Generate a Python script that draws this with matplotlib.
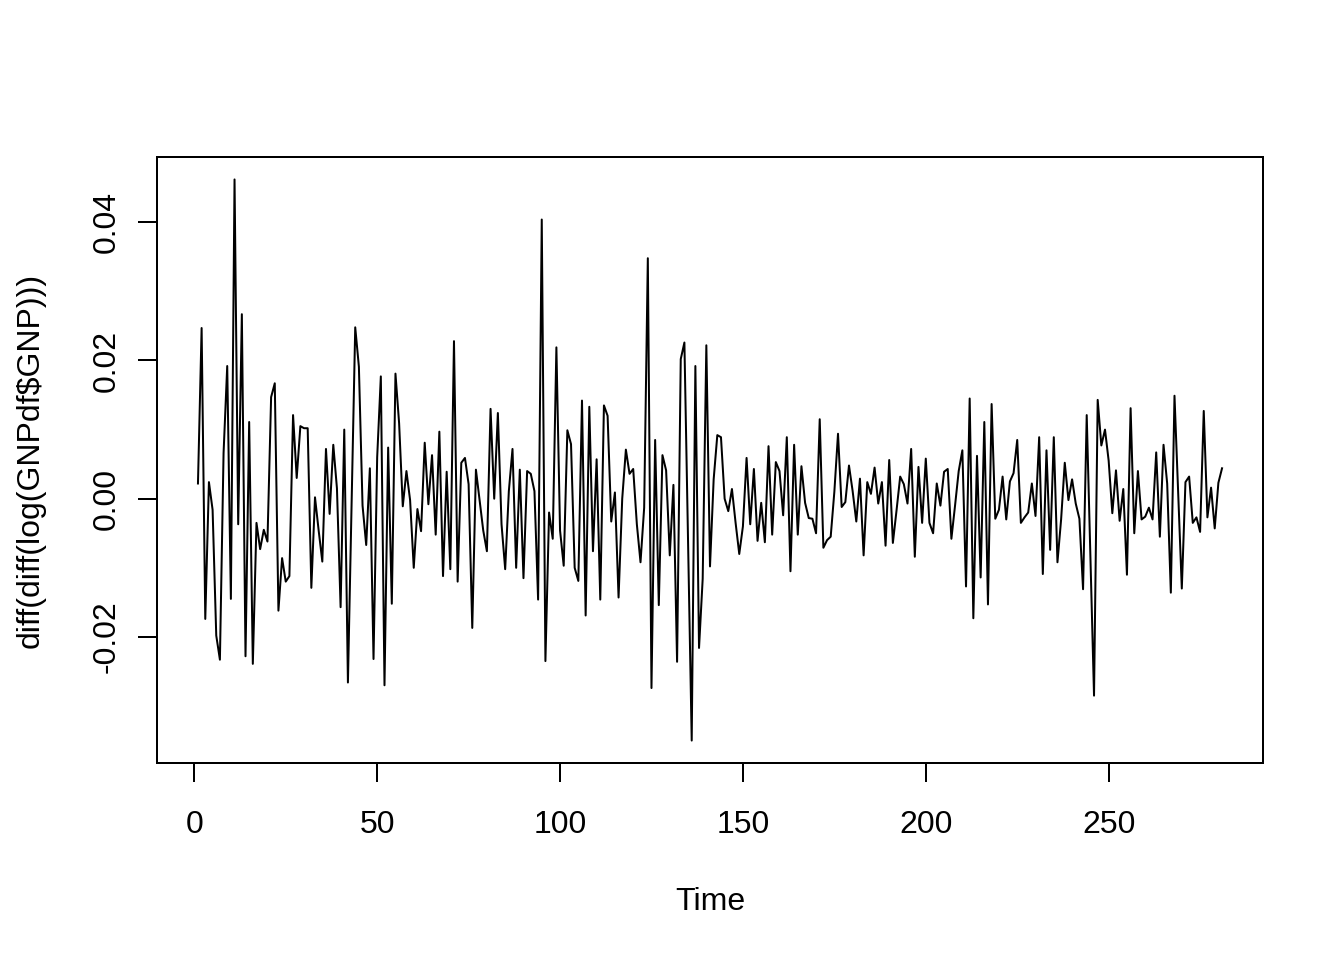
import numpy as np
import matplotlib
matplotlib.use("Agg")
import matplotlib.pyplot as plt

values = [
    0.0022, 0.0247, -0.0174, 0.0024, -0.0016, -0.0198, -0.0233, 0.0066, 0.0192, -0.0145,
    0.0462, -0.0037, 0.0267, -0.0228, 0.0111, -0.0239, -0.0035, -0.0073, -0.0045, -0.0062,
    0.0147, 0.0167,
    -0.0162, -0.0086, -0.0120, -0.0112, 0.0121, 0.0030, 0.0105, 0.0102, 0.0102, -0.0129,
    0.0002, -0.0046, -0.0091, 0.0072, -0.0022, 0.0078, 0.0015, -0.0157, 0.0100, -0.0266,
    -0.0008, 0.0248, 0.0191, -0.0010,
    -0.0067, 0.0044, -0.0232, 0.0060, 0.0177, -0.0270, 0.0074, -0.0152, 0.0181, 0.0109,
    -0.0011, 0.0040, -0.0002, -0.0100, -0.0015, -0.0047, 0.0081, -0.0008, 0.0063, -0.0052,
    0.0097, -0.0112, 0.0039, -0.0102,
    0.0228, -0.0120, 0.0052, 0.0059, 0.0021, -0.0187, 0.0042, -0.0002, -0.0046, -0.0076,
    0.0130, 0.0000, 0.0124, -0.0037, -0.0102, 0.0011, 0.0072, -0.0100, 0.0042, -0.0115,
    0.0040, 0.0036, 0.0011, -0.0146,
    0.0404, -0.0235, -0.0020, -0.0058, 0.0219, -0.0046, -0.0097, 0.0099, 0.0079, -0.0100,
    -0.0119, 0.0142, -0.0169, 0.0133, -0.0076, 0.0057, -0.0146, 0.0135, 0.0120, -0.0033,
    0.0009, -0.0143, 0.0000, 0.0071,
    0.0036, 0.0043, -0.0037, -0.0092, -0.0013, 0.0348, -0.0274, 0.0085, -0.0154, 0.0063,
    0.0041, -0.0082, 0.0020, -0.0236, 0.0202, 0.0226, -0.0060, -0.0350, 0.0192, -0.0216,
    -0.0116, 0.0222, -0.0098,
    0.0028, 0.0092, 0.0089, 0.0000, -0.0018, 0.0014, -0.0035, -0.0080, -0.0040, 0.0059,
    -0.0037, 0.0043, -0.0061, -0.0006, -0.0063, 0.0076, -0.0052, 0.0053, 0.0040, -0.0024,
    0.0089, -0.0105, 0.0078, -0.0052,
    0.0047, -0.0006, -0.0028, -0.0029, -0.0050, 0.0115, -0.0071, -0.0060, -0.0055, 0.0010,
    0.0094, -0.0012, -0.0005, 0.0048, 0.0011, -0.0033, 0.0029, -0.0082, 0.0024, 0.0007,
    0.0045, -0.0007, 0.0024, -0.0068,
    0.0056, -0.0064, -0.0017, 0.0032, 0.0021, -0.0007, 0.0072, -0.0084, 0.0046, -0.0035,
    0.0058, -0.0035, -0.0050, 0.0022, -0.0010, 0.0039, 0.0043, -0.0058, -0.0010, 0.0040,
    0.0070, -0.0127, 0.0145, -0.0173,
    0.0062, -0.0114, 0.0111, -0.0153, 0.0137, -0.0029, -0.0016, 0.0032, -0.0030, 0.0025,
    0.0037, 0.0085, -0.0035, -0.0027, -0.0020, 0.0022, -0.0025, 0.0089, -0.0109, 0.0070,
    -0.0074, 0.0089, -0.0092, -0.0030,
    0.0052, -0.0002, 0.0028, -0.0007, -0.0029, -0.0131, 0.0121, -0.0080, -0.0285, 0.0143,
    0.0077, 0.0100, 0.0055, -0.0021, 0.0041, -0.0032, 0.0014, -0.0110, 0.0131, -0.0050,
    0.0040, -0.0030, -0.0026,
    -0.0013, -0.0030, 0.0067, -0.0055, 0.0078, 0.0022, -0.0136, 0.0149, 0.0010, -0.0130,
    0.0024, 0.0032, -0.0035, -0.0027, -0.0048, 0.0127, -0.0027, 0.0016, -0.0043, 0.0023,
    0.0044,
]
time = np.arange(1, len(values) + 1)

x_ticks = [0, 50, 100, 150, 200, 250]
y_ticks = [-0.02, 0.00, 0.02, 0.04]
y_tick_labels = ["-0.02", "0.00", "0.02", "0.04"]
x_label = "Time"
y_label = "diff(diff(log(GNPdf$GNP)))"

plt.rcParams['font.family'] = ['Liberation Sans', 'DejaVu Sans']
plt.rcParams['font.size'] = 12

fig = plt.figure(figsize=(7, 5), dpi=192)
ax = fig.add_axes([157/1344, 1 - 763/960, (1263-157)/1344, (763-157)/960])

ax.plot(time, values, color='black', linewidth=0.75)

# R-style 4% axis expansion
xr = time.max() - time.min()
ax.set_xlim(time.min() - 0.04*xr, time.max() + 0.04*xr)
vmin, vmax = min(values), max(values)
yr = vmax - vmin
ax.set_ylim(vmin - 0.04*yr, vmax + 0.04*yr)

ax.set_xticks(x_ticks)
ax.set_xticklabels([str(t) for t in x_ticks])
ax.set_yticks(y_ticks)
ax.set_yticklabels(y_tick_labels, rotation=90, va='center')

ax.tick_params(axis='both', direction='out', length=7.2, width=0.75, labelsize=12)
ax.tick_params(axis='x', pad=10.5)
ax.tick_params(axis='y', pad=6)
for s in ax.spines.values():
    s.set_linewidth(0.75)

ax.set_xlabel(x_label, fontsize=12, labelpad=17.5)
ax.set_ylabel(y_label, fontsize=12, labelpad=17.5, parse_math=False)

fig.savefig("out.png", dpi=192)
